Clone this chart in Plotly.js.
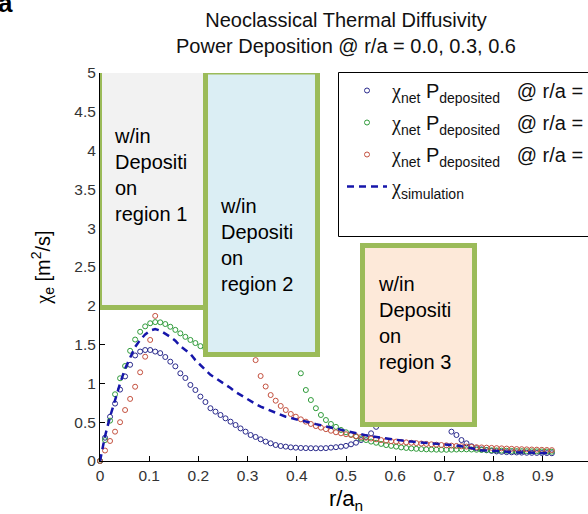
<!DOCTYPE html>
<html><head><meta charset="utf-8">
<script src="https://cdn.plot.ly/plotly-3.0.1.min.js"></script>
<style>html,body{margin:0;padding:0;overflow:hidden;background:#fff}#chart{width:700px;height:514px}</style>
</head><body><div id="chart"></div>
<script>
// radial grid r/a_n
const rA = [0, 0.0102, 0.0204, 0.0306, 0.0408, 0.0510, 0.0612, 0.0714, 0.0816, 0.0918,
  0.1020, 0.1122, 0.1224, 0.1327, 0.1429, 0.1531, 0.1633, 0.1735, 0.1837, 0.1939,
  0.2041, 0.2143, 0.2245, 0.2347, 0.2449, 0.2551, 0.2653, 0.2755, 0.2857, 0.2959,
  0.3061, 0.3163, 0.3265, 0.3367, 0.3469, 0.3571, 0.3673, 0.3776, 0.3878, 0.3980,
  0.4082, 0.4184, 0.4286, 0.4388, 0.4490, 0.4592, 0.4694, 0.4796, 0.4898, 0.5000,
  0.5102, 0.5204, 0.5306, 0.5408, 0.5510, 0.5612, 0.5714, 0.5816, 0.5918, 0.6020,
  0.6122, 0.6224, 0.6327, 0.6429, 0.6531, 0.6633, 0.6735, 0.6837, 0.6939, 0.7041,
  0.7143, 0.7245, 0.7347, 0.7449, 0.7551, 0.7653, 0.7755, 0.7857, 0.7959, 0.8061,
  0.8163, 0.8265, 0.8367, 0.8469, 0.8571, 0.8673, 0.8776, 0.8878, 0.8980, 0.9082,
  0.9184];

const chiNetNavy = [0, 0.30, 0.57, 0.74, 0.92, 1.09, 1.24, 1.36, 1.41, 1.43,
  1.43, 1.41, 1.39, 1.34, 1.28, 1.22, 1.13, 1.07, 0.98, 0.915,
  0.83, 0.76, 0.68, 0.636, 0.593, 0.55, 0.507, 0.464, 0.42, 0.378,
  0.335, 0.31, 0.28, 0.25, 0.228, 0.206, 0.193, 0.185, 0.176, 0.172,
  0.168, 0.166, 0.165, 0.164, 0.164, 0.166, 0.172, 0.178, 0.185, 0.195,
  0.215, 0.236, 0.27, 0.31, 0.357, 0.44, 0.60, 0.75, 0.88, 0.98,
  1.06, 1.12, 1.15, 1.14, 1.10, 1.02, 0.92, 0.80, 0.66, 0.53,
  0.378, 0.335, 0.27, 0.228, 0.19, 0.165, 0.15, 0.14, 0.13, 0.123,
  0.118, 0.114, 0.112, 0.11, 0.108, 0.106, 0.105, 0.104, 0.103, 0.102,
  0.10];

const chiNetGreen = [0, 0.27, 0.52, 0.86, 1.066, 1.224, 1.42, 1.565, 1.665, 1.735,
  1.775, 1.79, 1.787, 1.765, 1.73, 1.69, 1.645, 1.60, 1.56, 1.52,
  1.48, 1.45, 1.45, 1.46, 1.48, 1.50, 1.53, 1.56, 1.60, 1.65,
  1.70, 1.76, 1.82, 1.88, 1.94, 1.98, 2.0, 1.95, 1.80, 1.55,
  1.13, 0.915, 0.786, 0.68, 0.593, 0.528, 0.477, 0.44, 0.40, 0.37,
  0.34, 0.315, 0.29, 0.27, 0.25, 0.235, 0.22, 0.205, 0.195, 0.185,
  0.175, 0.168, 0.162, 0.157, 0.153, 0.15, 0.148, 0.146, 0.145, 0.145,
  0.146, 0.148, 0.15, 0.15, 0.148, 0.145, 0.142, 0.14, 0.138, 0.136,
  0.134, 0.132, 0.13, 0.128, 0.127, 0.126, 0.125, 0.124, 0.123, 0.122,
  0.12];

const chiNetRed = [0, 0.135, 0.258, 0.378, 0.50, 0.657, 0.80, 0.957, 1.143, 1.344,
  1.56, 1.87, 2.15, 2.35, 2.50, 2.60, 2.62, 2.60, 2.55, 2.50,
  2.45, 2.40, 2.35, 2.30, 2.25, 2.20, 2.15, 2.10, 2.0, 1.85,
  1.6, 1.30, 1.095, 0.96, 0.85, 0.777, 0.709, 0.657, 0.606, 0.571,
  0.537, 0.507, 0.477, 0.45, 0.43, 0.41, 0.39, 0.37, 0.357, 0.345,
  0.335, 0.32, 0.31, 0.30, 0.29, 0.28, 0.27, 0.262, 0.255, 0.25,
  0.245, 0.24, 0.235, 0.23, 0.225, 0.22, 0.215, 0.21, 0.206, 0.202,
  0.198, 0.194, 0.19, 0.186, 0.182, 0.178, 0.175, 0.172, 0.169, 0.166,
  0.163, 0.16, 0.157, 0.154, 0.152, 0.15, 0.148, 0.146, 0.144, 0.142,
  0.14];

const chiSimulation = [0, 0.32, 0.57, 0.80, 1.0, 1.19, 1.34, 1.47, 1.56, 1.63,
  1.68, 1.70, 1.68, 1.645, 1.60, 1.55, 1.48, 1.43, 1.38, 1.30,
  1.24, 1.18, 1.11, 1.07, 1.03, 0.99, 0.94, 0.89, 0.85, 0.81,
  0.765, 0.735, 0.70, 0.675, 0.64, 0.615, 0.59, 0.57, 0.555, 0.535,
  0.52, 0.51, 0.49, 0.475, 0.46, 0.445, 0.43, 0.415, 0.40, 0.385,
  0.37, 0.355, 0.34, 0.33, 0.32, 0.31, 0.30, 0.29, 0.28, 0.27,
  0.26, 0.255, 0.25, 0.245, 0.24, 0.235, 0.23, 0.225, 0.22, 0.215,
  0.21, 0.20, 0.19, 0.175, 0.16, 0.15, 0.14, 0.135, 0.13, 0.125,
  0.12, 0.118, 0.115, 0.112, 0.11, 0.108, 0.106, 0.104, 0.103, 0.102,
  0.10];

const xTickVals = [0, 0.1, 0.2, 0.3, 0.4, 0.5, 0.6, 0.7, 0.8, 0.9];
const yTickVals = [0, 0.5, 1, 1.5, 2, 2.5, 3, 3.5, 4, 4.5, 5];
const regionLabels = ['region 1', 'region 2', 'region 3'];

const FONT = 'Liberation Sans, Arial, Helvetica, sans-serif';
const SERIF = 'Liberation Serif, Times New Roman, serif';
const W = 700, H = 514;
const ML = 100, MR = 108, MT = 73, MB = 53;
const PW = W - ML - MR, PH = H - MT - MB;
// pixel -> data / paper helpers for layout furniture
const px2x = p => (p - ML) / PW;
const py2y = p => (H - MB - p) / PH * 5;
const py2paper = p => (H - MB - p) / PH;

const chi = '<span style="font-family:' + SERIF + '">χ</span>';
const NB = '&nbsp;';
const legNet = chi + '<sub>net</sub> P<sub>deposited</sub> ' + NB + NB + '@ r/a =';

const traces = [
  {x: rA, y: chiNetNavy, name: legNet, legendgroup: 'g1', mode: 'markers', cliponaxis: false,
   marker: {symbol: 'circle-open', size: 5, color: '#2a2a8c', line: {width: 1}}},
  {x: rA, y: chiNetGreen, name: legNet, legendgroup: 'g2', mode: 'markers', cliponaxis: false,
   marker: {symbol: 'circle-open', size: 5, color: '#2f9b3a', line: {width: 1}}},
  {x: rA, y: chiNetRed, name: legNet, legendgroup: 'g3', mode: 'markers', cliponaxis: false,
   marker: {symbol: 'circle-open', size: 5, color: '#c4513f', line: {width: 1}}},
  {x: rA, y: chiSimulation, name: chi + '<sub>simulation</sub>', legendgroup: 'g4', mode: 'lines', cliponaxis: false,
   line: {color: '#1616aa', width: 2.5, dash: '7px,5px'}}
];

const boxLine = {color: '#9BBB59', width: 5};
const boxes = [
  {l: 99.5, r: 205.5, t: 69.5, b: 307.5, fill: '#F2F2F2'},
  {l: 205.5, r: 317.5, t: 72, b: 354.5, fill: '#DBEEF4'},
  {l: 362.5, r: 474.5, t: 245.5, b: 424.5, fill: '#FDE9D9'}
];
const boxText = [
  {l: 112, c: 175}, {l: 218, c: 245}, {l: 376, c: 323}
];

const shapes = [
  {type: 'rect', xref: 'paper', yref: 'paper', layer: 'below',
   x0: px2x(338.5), x1: px2x(620), y0: py2paper(236.5), y1: py2paper(72.5),
   fillcolor: '#ffffff', line: {color: '#000', width: 1}}
].concat(boxes.map(b => ({type: 'rect', xref: 'x', yref: 'y', layer: 'above',
   x0: px2x(b.l), x1: px2x(b.r), y0: py2y(b.b), y1: py2y(b.t),
   fillcolor: b.fill, line: boxLine})));

const annotations = boxText.map((t, i) => ({
  xref: 'x', yref: 'y', x: px2x(t.l), y: py2y(t.c), xanchor: 'left', yanchor: 'middle',
  showarrow: false, align: 'left', text: 'w/in<br>Depositi<br>on<br>' + regionLabels[i],
  font: {family: FONT, size: 20, color: '#000'}
})).concat([{
  xref: 'paper', yref: 'paper', x: px2x(5), y: py2paper(3), xanchor: 'center', yanchor: 'middle',
  showarrow: false, text: '<b>a</b>', font: {family: FONT, size: 26, color: '#000'}
}]);

const axisCommon = {
  showline: true, linecolor: '#000', linewidth: 1, mirror: false,
  ticks: 'inside', ticklen: 5, tickcolor: '#000', tickwidth: 1,
  showgrid: false, zeroline: false, tickmode: 'array',
  tickfont: {family: FONT, size: 15.5, color: '#333'}
};

const layout = {
  width: W, height: H, margin: {l: ML, r: MR, t: MT, b: MB},
  paper_bgcolor: '#fff', plot_bgcolor: '#fff',
  font: {family: FONT, color: '#111'},
  title: {text: 'Neoclassical Thermal Diffusivity<br>Power Deposition @ r/a = 0.0, 0.3, 0.6',
          font: {family: FONT, size: 20, color: '#111'},
          xref: 'paper', x: 0.5, xanchor: 'center', yref: 'container', y: 1 - 27 / H, yanchor: 'top'},
  xaxis: Object.assign({}, axisCommon, {range: [0, 1], tickvals: xTickVals, ticktext: xTickVals.map(String),
          title: {text: 'r/a<sub>n</sub>', font: {family: FONT, size: 22, color: '#000'}, standoff: 11}}),
  yaxis: Object.assign({}, axisCommon, {range: [0, 5], tickvals: yTickVals, ticktext: yTickVals.map(String),
          title: {text: chi + '<sub>e</sub> [m<sup>2</sup>/s]', font: {family: FONT, size: 20, color: '#000'}, standoff: 18}}),
  showlegend: true,
  legend: {x: px2x(342), xanchor: 'left', y: py2paper(71), yanchor: 'top',
           bgcolor: 'rgba(0,0,0,0)', borderwidth: 0, itemwidth: 40, tracegroupgap: 3,
           font: {family: FONT, size: 20, color: '#111'}},
  shapes: shapes, annotations: annotations
};

Plotly.newPlot('chart', traces, layout, {displayModeBar: false, staticPlot: true});
</script></body></html>
